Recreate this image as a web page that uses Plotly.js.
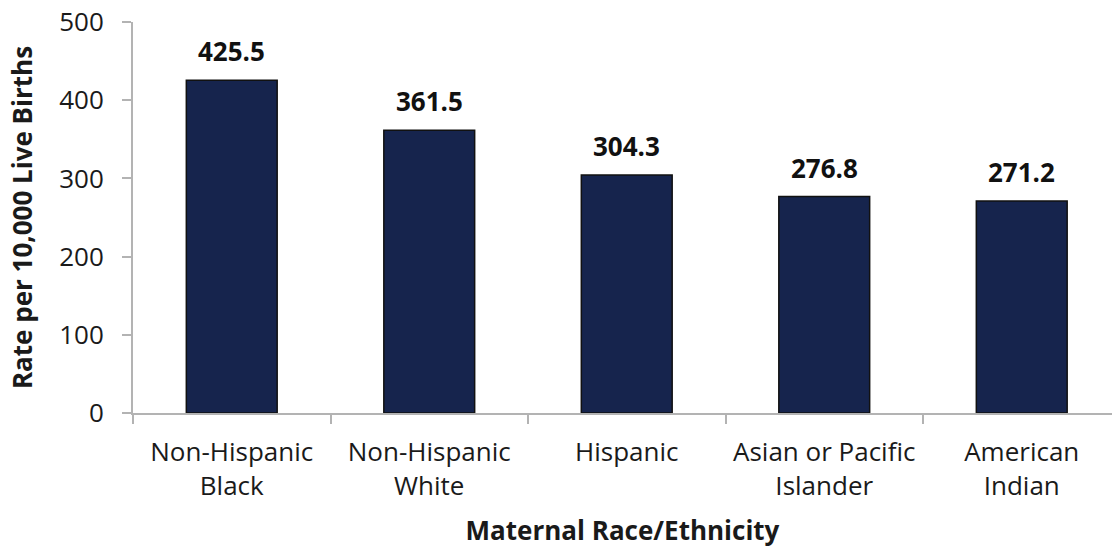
<!DOCTYPE html>
<html>
<head>
<meta charset="utf-8">
<script src="https://cdn.plot.ly/plotly-3.0.1.min.js"></script>
<style>html,body{margin:0;padding:0;background:#fff;}#chart{width:1112px;height:548px;}</style>
</head>
<body>
<div id="chart"></div>
<script>
const categories = ["Non-Hispanic<br>Black", "Non-Hispanic<br>White", "Hispanic", "Asian or Pacific<br>Islander", "American<br>Indian"];
const rates = [425.5, 361.5, 304.3, 276.8, 271.2];
const rateLabels = ["425.5", "361.5", "304.3", "276.8", "271.2"];
const yTicks = [0, 100, 200, 300, 400, 500];

const FONT = "Open Sans, Noto Sans, sans-serif";

const trace = {
  type: "bar",
  x: categories,
  y: rates,
  marker: { color: "#16244d", line: { color: "#111111", width: 1.5 } },
  hoverinfo: "none"
};

const annotations = categories.map((c, i) => ({
  x: c, y: rates[i], xref: "x", yref: "y",
  text: "<b>" + rateLabels[i] + "</b>",
  showarrow: false, yanchor: "bottom", yshift: 9,
  font: { family: FONT, size: 26, color: "#111111" }
}));

const layout = {
  width: 1112, height: 548,
  margin: { l: 133, r: 0, t: 22, b: 135 },
  paper_bgcolor: "#ffffff", plot_bgcolor: "#ffffff",
  showlegend: false,
  bargap: 0.54,
  font: { family: FONT, size: 26, color: "#1a1a1a" },
  xaxis: {
    type: "category",
    range: [-0.5, 4.457],
    showline: true, linecolor: "#b3b3b3", linewidth: 2,
    ticks: "outside", tickson: "boundaries", ticklen: 9, tickcolor: "#b3b3b3", tickwidth: 2,
    ticklabelstandoff: 15,
    showgrid: false, zeroline: false,
    tickfont: { family: FONT, size: 26, color: "#1a1a1a" },
    automargin: false,
    title: { text: "<b>Maternal Race/Ethnicity</b>", font: { family: FONT, size: 26, color: "#1a1a1a" }, standoff: 27 }
  },
  yaxis: {
    range: [0, 500],
    tickvals: yTicks,
    showline: true, linecolor: "#b3b3b3", linewidth: 2,
    ticks: "outside", ticklen: 9, tickcolor: "#b3b3b3", tickwidth: 2,
    ticklabelstandoff: 13,
    showgrid: false, zeroline: false,
    tickfont: { family: FONT, size: 26, color: "#1a1a1a" },
    automargin: false,
    title: { text: "<b>Rate per 10,000 Live Births</b>", font: { family: FONT, size: 26, color: "#1a1a1a" }, standoff: 19 }
  },
  annotations: annotations
};

Plotly.newPlot("chart", [trace], layout, { displayModeBar: false, staticPlot: true });
</script>
</body>
</html>
